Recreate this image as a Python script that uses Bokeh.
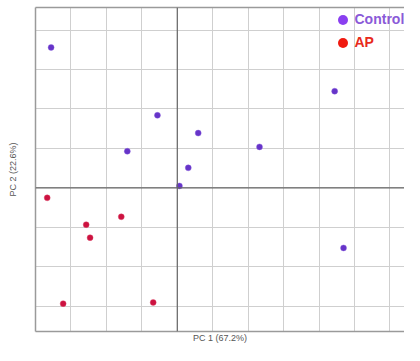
import numpy as np
from bokeh.plotting import figure
from bokeh.models import (ColumnDataSource, FixedTicker, LinearAxis, Span,
                          Legend, LegendItem, Range1d)
from bokeh.embed import file_html
from bokeh.resources import INLINE

# PCA scores (in grid units)
ctrl_x = [-3.56, 4.44, -0.56, 0.59, -1.41, 2.32, 0.31, 0.06, 4.69]
ctrl_y = [3.56, 2.45, 1.84, 1.39, 0.93, 1.04, 0.51, 0.05, -1.52]
ap_x = [-3.67, -1.58, -2.57, -2.46, -3.22, -0.68, 6.89]
ap_y = [-0.25, -0.73, -0.93, -1.26, -2.93, -2.90, -1.59]
x_grid = list(range(-4, 8))
y_grid = list(range(-3, 5))
x_label = "PC 1 (67.2%)"
y_label = "PC 2 (22.6%)"
groups = ["Control", "AP"]

p = figure(width=404, height=345, output_backend="svg", toolbar_location=None,
           x_range=Range1d(-4, 6.41), y_range=Range1d(-3.636, 4.571),
           min_border_left=35, min_border_right=0, min_border_top=7,
           min_border_bottom=13, x_axis_location=None, y_axis_location=None)
p.outline_line_color = None
p.background_fill_color = "white"

p.xgrid.ticker = FixedTicker(ticks=x_grid)
p.ygrid.ticker = FixedTicker(ticks=y_grid)
for g in (p.xgrid, p.ygrid):
    g.grid_line_color = "#cfcfcf"
    g.grid_line_width = 1

def make_axis(label=None, standoff=0):
    ax = LinearAxis(ticker=FixedTicker(ticks=[]))
    ax.axis_line_color = "#9a9a9a"
    ax.axis_line_width = 1.5
    ax.major_tick_line_color = None
    ax.minor_tick_line_color = None
    if label:
        ax.axis_label = label
        ax.axis_label_text_font = "Liberation Sans"
        ax.axis_label_text_font_size = "9px"
        ax.axis_label_text_font_style = "normal"
        ax.axis_label_text_color = "#555555"
        ax.axis_label_standoff = standoff
    return ax

p.add_layout(make_axis(y_label, 18), "left")
p.add_layout(make_axis(x_label, 1), "below")
p.add_layout(make_axis(), "above")

p.add_layout(Span(location=0, dimension="height", line_color="#666666", line_width=1.2))
p.add_layout(Span(location=0, dimension="width", line_color="#666666", line_width=1.2))

p.scatter(ctrl_x, ctrl_y, size=6, fill_color="#6634c8", line_color="#8a60e0",
          line_alpha=0.4, line_width=1)
p.scatter(ap_x, ap_y, size=6, fill_color="#cc1240", line_color="#e05070",
          line_alpha=0.4, line_width=1)

# legend-only renderers
src_nan = ColumnDataSource(dict(x=[np.nan], y=[np.nan]))
r_c = p.scatter("x", "y", source=src_nan, size=10, fill_color="#8a3ff0", line_color=None)
r_a = p.scatter("x", "y", source=src_nan, size=10, fill_color="#f01a10", line_color=None)

def make_legend(label, r, color, loc):
    return Legend(items=[LegendItem(label=label, renderers=[r])], location=loc,
                  glyph_width=25, glyph_height=25, label_standoff=-9,
                  padding=0, margin=0, spacing=0,
                  border_line_color=None, background_fill_alpha=0,
                  label_text_font="Liberation Sans", label_text_font_style="bold",
                  label_text_font_size="14px", label_text_color=color)

p.add_layout(make_legend(groups[0], r_c, "#8a5ad8", (294.5, 299.5)))
p.add_layout(make_legend(groups[1], r_a, "#e82a1c", (294.5, 276.5)))

open("out.html", "w").write(file_html(p, INLINE))
